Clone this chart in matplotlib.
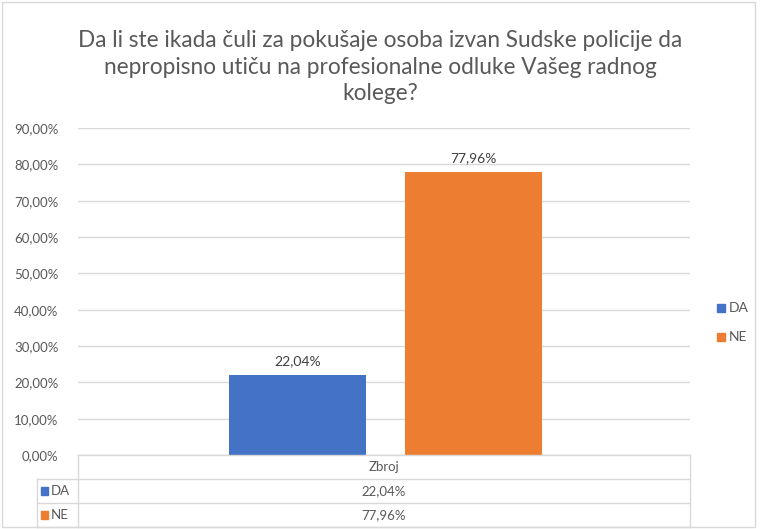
import matplotlib.pyplot as plt
from matplotlib.patches import Rectangle
from matplotlib.lines import Line2D

plt.rcParams['font.family'] = ['Lato', 'DejaVu Sans']

title = "Da li ste ikada čuli za pokušaje osoba izvan Sudske policije da\nnepropisno utiču na profesionalne odluke Vašeg radnog\nkolege?"
category = "Zbroj"
series = ["DA", "NE"]
values = [0.2204, 0.7796]
colors = ["#4472C4", "#ED7D31"]
yticks = [0, 0.1, 0.2, 0.3, 0.4, 0.5, 0.6, 0.7, 0.8, 0.9]


def pct(v):
    return f"{v * 100:.2f}%".replace(".", ",")


W, H = 760, 529
fig = plt.figure(figsize=(W / 100, H / 100), dpi=100)
fig.add_artist(Rectangle((2 / W, 2 / H), 753 / W, 525 / H, transform=fig.transFigure,
                         fill=False, edgecolor="#D9D9D9", lw=1))

# положение области графика в пикселях
left, right, top, bottom = 78, 690, 128, 455
ax = fig.add_axes([left / W, 1 - bottom / H, (right - left) / W, (bottom - top) / H])

width = 0.224
offsets = [-0.141, 0.146]
for i, (v, c) in enumerate(zip(values, colors)):
    ax.bar(offsets[i], v, width=width, color=c, zorder=3)
    ax.text(offsets[i], v + 0.02, pct(v), ha="center", va="bottom", fontsize=10, color="#404040")

ax.set_xlim(-0.5, 0.5)
ax.set_ylim(0, 0.9)
ax.set_yticks(yticks)
ax.set_yticklabels([pct(t) for t in yticks], fontsize=9.5, color="#595959")
ax.set_xticks([])
ax.grid(axis="y", color="#D9D9D9", lw=1, zorder=0)
ax.tick_params(axis="y", length=0, pad=14)
for s in ax.spines.values():
    s.set_visible(False)

fig.text(0.5, 1 - 67 / H, title, ha="center", va="center", fontsize=16.3,
         color="#595959", linespacing=1.3)

# легенда справа
for i, (name, c) in enumerate(zip(series, colors)):
    y = 1 - (308 + 29 * i) / H
    fig.add_artist(Rectangle((717 / W, y - 4 / H), 8 / W, 8 / H, transform=fig.transFigure,
                             color=c))
    fig.text(729 / W, y, name, ha="left", va="center", fontsize=10, color="#595959")

# таблица данных
lc = "#D9D9D9"
row_h = 24
rows_top = bottom
lab_left = 37


def hline(x0, x1, y):
    fig.add_artist(Line2D([x0 / W, x1 / W], [1 - y / H, 1 - y / H], color=lc, lw=1))


def vline(x, y0, y1):
    fig.add_artist(Line2D([x / W, x / W], [1 - y0 / H, 1 - y1 / H], color=lc, lw=1))


hline(left, right, rows_top)
for r in range(1, 4):
    hline(lab_left, right, rows_top + r * row_h)
vline(left, rows_top, rows_top + 3 * row_h)
vline(right, rows_top, rows_top + 3 * row_h)
vline(lab_left, rows_top + row_h, rows_top + 3 * row_h)

cx = (left + right) / 2
fig.text(cx / W, 1 - (rows_top + row_h / 2) / H, category, ha="center", va="center",
         fontsize=9.5, color="#595959")
for i, (name, v, c) in enumerate(zip(series, values, colors)):
    yc = rows_top + row_h * (i + 1.5)
    fig.add_artist(Rectangle((41 / W, 1 - (yc + 4) / H), 7 / W, 8 / H,
                             transform=fig.transFigure, color=c))
    fig.text(51 / W, 1 - yc / H, name, ha="left", va="center", fontsize=9.5, color="#595959")
    fig.text(cx / W, 1 - yc / H, pct(v), ha="center", va="center", fontsize=9.5, color="#595959")

fig.savefig("out.png", dpi=100)
